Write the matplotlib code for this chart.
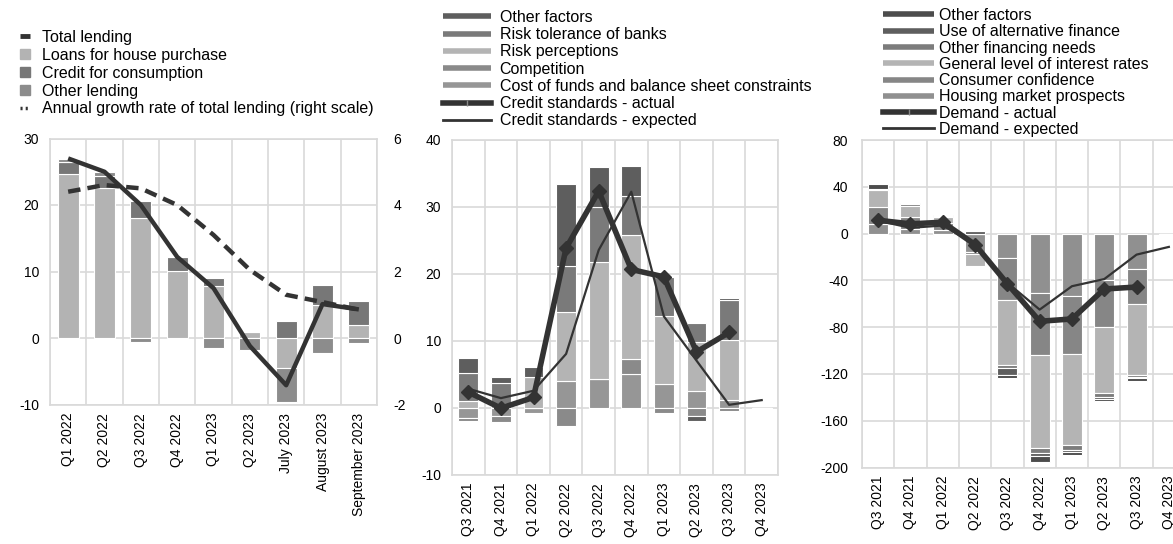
import numpy as np
import matplotlib
matplotlib.use("Agg")
import matplotlib.pyplot as plt
from matplotlib.lines import Line2D

plt.rcParams['font.family'] = ['Liberation Sans', 'DejaVu Sans']
plt.rcParams['axes.unicode_minus'] = False

# ---------------- Panel a: lending contributions ----------------
lend_cats = ["Q1 2022", "Q2 2022", "Q3 2022", "Q4 2022", "Q1 2023", "Q2 2023",
             "July 2023", "August 2023", "September 2023"]
loans_house = [24.7, 22.5, 18.1, 10.1, 7.8, 0.9, -4.5, 5.0, 1.9]
credit_consumption = [1.7, 1.9, 2.5, 2.1, 1.2, 0.0, 2.5, 2.9, 3.6]
other_lending = [0.5, 0.5, -0.6, 0.0, -1.5, -1.8, -5.1, -2.2, -0.8]
total_lending = [27.0, 25.0, 20.0, 12.2, 7.5, -1.2, -7.1, 5.1, 4.3]
annual_growth = [4.4, 4.6, 4.5, 4.0, 3.1, 2.05, 1.3, 1.08, 0.85]

# ---------------- Panel b: credit standards ----------------
cs_cats = ["Q3 2021", "Q4 2021", "Q1 2022", "Q2 2022", "Q3 2022", "Q4 2022",
           "Q1 2023", "Q2 2023", "Q3 2023", "Q4 2023"]
cs_cost_funds = [-1.5, -1.2, -0.8, 4.0, 4.3, 5.0, 3.5, 2.4, 1.1, 0.0]
cs_competition = [-0.5, -1.0, 0.0, -2.7, 0.0, 2.3, -0.8, -1.2, -0.5, 0.0]
cs_risk_perceptions = [1.0, 0.5, 4.5, 10.2, 17.4, 18.4, 10.2, 7.4, 9.0, 0.0]
cs_risk_tolerance = [4.2, 3.1, 0.0, 6.9, 8.3, 5.8, 5.8, 2.8, 5.9, 0.0]
cs_other = [2.2, 1.0, 1.5, 12.3, 5.9, 4.5, 0.0, -0.8, 0.4, 0.0]
cs_actual = [2.3, -0.1, 1.5, 23.8, 32.3, 20.6, 19.5, 8.3, 11.2]
cs_expected = [2.8, 1.4, 2.5, 8.0, 23.5, 32.2, 13.6, 7.0, 0.4, 1.1]

# ---------------- Panel c: loan demand ----------------
dm_cats = cs_cats
dm_housing = [8.0, 4.0, 3.0, -16.0, -21.0, -51.0, -53.0, -40.0, -30.5, 0.0]
dm_confidence = [15.0, 10.0, 6.0, -1.5, -36.0, -53.0, -50.0, -39.5, -30.0, 0.0]
dm_rates = [14.0, 10.0, 5.0, -10.5, -55.0, -79.0, -78.0, -57.0, -60.5, 0.0]
dm_fin_needs = [1.0, 1.0, 1.0, 0.0, -3.0, -4.5, -4.0, -3.0, -1.5, 0.0]
dm_alt_finance = [0.0, 1.0, 0.5, 2.5, -6.0, -2.5, -2.0, -2.0, -1.0, 0.0]
dm_other = [4.0, -1.5, -1.0, 0.0, -2.5, -5.5, -2.5, -2.0, -2.5, 0.0]
dm_actual = [11.4, 8.3, 9.7, -9.4, -42.9, -75.0, -73.0, -47.4, -45.7]
dm_expected = [11.0, 4.9, 6.9, -9.0, -42.0, -65.0, -45.0, -38.9, -18.0, -11.4]

W, H = 1173, 544
fig = plt.figure(figsize=(W / 100, H / 100), dpi=100)
fig.patch.set_facecolor("white")

GRID = "#d9d9d9"
LINE = "#333333"
TICK_FS = 10
LEG_FS = 11.5


def px_axes(left, top, right, bottom):
    return fig.add_axes([left / W, 1 - bottom / H, (right - left) / W, (bottom - top) / H])


def style_axes(ax, labels, ylim, yticks):
    n = len(labels)
    ax.set_xlim(-0.5, n - 0.5)
    ax.set_ylim(*ylim)
    ax.set_yticks(yticks)
    ax.set_xticks(np.arange(n))
    ax.set_xticklabels(labels, rotation=90, fontsize=TICK_FS)
    ax.set_xticks(np.arange(n + 1) - 0.5, minor=True)
    ax.tick_params(axis="both", which="both", length=0)
    ax.tick_params(axis="y", labelsize=TICK_FS, pad=8)
    ax.tick_params(axis="x", pad=6)
    ax.grid(True, axis="y", which="major", color=GRID, lw=1.2)
    ax.grid(True, axis="x", which="minor", color=GRID, lw=1.2)
    ax.set_axisbelow(True)
    for s in ax.spines.values():
        s.set_color(GRID)
        s.set_linewidth(1.2)


def stacked(ax, series, colors, width):
    n = len(series[0])
    x = np.arange(n)
    pos = np.zeros(n)
    neg = np.zeros(n)
    for vals, col in zip(series, colors):
        v = np.asarray(vals, dtype=float)
        base = np.where(v >= 0, pos, neg)
        ax.bar(x, v, width, bottom=base, color=col, edgecolor="white", linewidth=0.8, zorder=2)
        pos += np.clip(v, 0, None)
        neg += np.clip(v, None, 0)


# ---- panel a ----
ax1 = px_axes(50, 138.5, 377, 404.5)
lend_colors = ["#b3b3b3", "#777777", "#8c8c8c"]
stacked(ax1, [loans_house, credit_consumption, other_lending], lend_colors, 0.57)
x1 = np.arange(len(lend_cats))
ax1.plot(x1, total_lending, color=LINE, lw=3.2, zorder=4, solid_capstyle="butt")
style_axes(ax1, lend_cats, (-10, 30), [-10, 0, 10, 20, 30])
ax1b = ax1.twinx()
ax1b.plot(x1, annual_growth, color=LINE, lw=3.2, dashes=(2.8, 1.6), zorder=4)
ax1b.set_ylim(-2, 6)
ax1b.set_yticks([-2, 0, 2, 4, 6])
ax1b.tick_params(axis="y", length=0, labelsize=TICK_FS, pad=12)
for s in ax1b.spines.values():
    s.set_visible(False)

leg1_handles = [
    Line2D([], [], color=LINE, lw=3.5, solid_capstyle="butt"),
    Line2D([], [], ls="none", marker="s", ms=7, color=lend_colors[0]),
    Line2D([], [], ls="none", marker="s", ms=7, color=lend_colors[1]),
    Line2D([], [], ls="none", marker="s", ms=7, color=lend_colors[2]),
    Line2D([], [], color=LINE, lw=2.5, ls=(0, (0.6, 0.9))),
]
leg1_labels = ["Total lending", "Loans for house purchase", "Credit for consumption",
               "Other lending", "Annual growth rate of total lending (right scale)"]
fig.legend(leg1_handles, leg1_labels, loc="upper left", bbox_to_anchor=(20 / W, 1 - 30 / H),
           frameon=False, fontsize=LEG_FS, handlelength=0.6, handletextpad=0.75,
           labelspacing=0.18, borderpad=0, borderaxespad=0)

# ---- panel b ----
ax2 = px_axes(452, 139.5, 778, 474.5)
cs_colors = ["#969696", "#8a8a8a", "#b4b4b4", "#7a7a7a", "#5e5e5e"]
stacked(ax2, [cs_cost_funds, cs_competition, cs_risk_perceptions, cs_risk_tolerance, cs_other],
        cs_colors, 0.61)
ax2.plot(np.arange(len(cs_expected)), cs_expected, color=LINE, lw=1.6, zorder=4)
ax2.plot(np.arange(len(cs_actual)), cs_actual, color=LINE, lw=4, marker="D", ms=7, zorder=5)
style_axes(ax2, cs_cats, (-10, 40), [-10, 0, 10, 20, 30, 40])

leg2_handles = [Line2D([], [], color=c, lw=4, solid_capstyle="butt") for c in cs_colors[::-1]] + [
    Line2D([], [], color=LINE, lw=4, marker="|", ms=5, mew=1, mec="#888888"),
    Line2D([], [], color=LINE, lw=2),
]
leg2_labels = ["Other factors", "Risk tolerance of banks", "Risk perceptions", "Competition",
               "Cost of funds and balance sheet constraints", "Credit standards - actual",
               "Credit standards - expected"]
fig.legend(leg2_handles, leg2_labels, loc="upper left", bbox_to_anchor=(443 / W, 1 - 10 / H),
           frameon=False, fontsize=LEG_FS, handlelength=3.0, handletextpad=0.55,
           labelspacing=0.14, borderpad=0, borderaxespad=0)

# ---- panel c ----
ax3 = px_axes(862, 140, 1185, 467.5)
dm_colors = ["#909090", "#868686", "#b4b4b4", "#7c7c7c", "#5e5e5e", "#4c4c4c"]
stacked(ax3, [dm_housing, dm_confidence, dm_rates, dm_fin_needs, dm_alt_finance, dm_other],
        dm_colors, 0.62)
ax3.plot(np.arange(len(dm_expected)), dm_expected, color=LINE, lw=1.6, zorder=4)
ax3.plot(np.arange(len(dm_actual)), dm_actual, color=LINE, lw=4, marker="D", ms=7, zorder=5)
style_axes(ax3, dm_cats, (-200, 80), [-200, -160, -120, -80, -40, 0, 40, 80])
ax3.tick_params(axis="y", pad=10)

leg3_handles = [Line2D([], [], color=c, lw=4, solid_capstyle="butt") for c in dm_colors[::-1]] + [
    Line2D([], [], color=LINE, lw=4, marker="|", ms=5, mew=1, mec="#888888"),
    Line2D([], [], color=LINE, lw=2),
]
leg3_labels = ["Other factors", "Use of alternative finance", "Other financing needs",
               "General level of interest rates", "Consumer confidence",
               "Housing market prospects", "Demand - actual", "Demand - expected"]
fig.legend(leg3_handles, leg3_labels, loc="upper left", bbox_to_anchor=(883 / W, 1 - 8 / H),
           frameon=False, fontsize=LEG_FS, handlelength=3.2, handletextpad=0.3,
           labelspacing=0.08, borderpad=0, borderaxespad=0)

fig.savefig("out.png", dpi=100)
